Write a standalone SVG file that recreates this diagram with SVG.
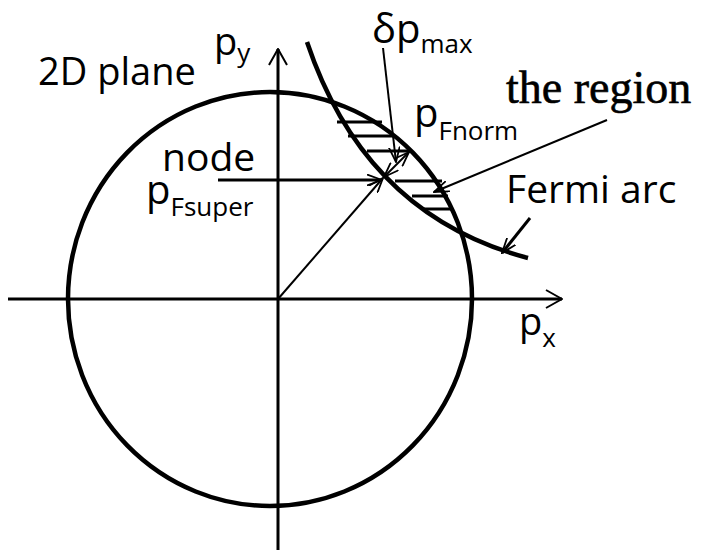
<svg xmlns="http://www.w3.org/2000/svg" width="702" height="550" viewBox="0 0 702 550">
  <style>
    .ln { stroke: #000; fill: none; stroke-linecap: butt; }
    .sans { font-family: "Open Sans", "Liberation Sans", sans-serif; fill: #000; }
    .serif { font-family: "Liberation Serif", "Times New Roman", serif; fill: #000; stroke: #000; stroke-width: 0.6px; }
    .sub { font-size: 26px; }
  </style>
  <defs>
    <marker id="ah" viewBox="0 0 16 12" refX="15" refY="6" markerWidth="16" markerHeight="12" markerUnits="userSpaceOnUse" orient="auto-start-reverse">
      <path d="M0,0.5 L15,6 L0,11.5" fill="none" stroke="#000" stroke-width="1.8"/>
    </marker>
    <marker id="axh" viewBox="0 0 18 20" refX="17" refY="10" markerWidth="18" markerHeight="20" markerUnits="userSpaceOnUse" orient="auto">
      <path d="M1,1 L17,10 L1,19" fill="none" stroke="#000" stroke-width="2"/>
    </marker>
  </defs>
  <rect width="702" height="550" fill="#fff"/>

  <g id="axes">
    <line class="ln" x1="8" y1="299" x2="562" y2="299" stroke-width="3" marker-end="url(#axh)"/>
    <line class="ln" x1="278" y1="550" x2="278" y2="49" stroke-width="3" marker-end="url(#axh)"/>
  </g>

  <g id="fermi-circle">
    <ellipse class="ln" cx="270" cy="299" rx="202" ry="207" stroke-width="4.5"/>
  </g>

  <g id="fermi-arc">
    <path class="ln" d="M307,42 Q365,215 528,258" stroke-width="4.5"/>
  </g>

  <g id="region-hatch">
    <line class="ln" x1="337" y1="122" x2="382" y2="122" stroke-width="3"/>
    <line class="ln" x1="348" y1="136" x2="393" y2="136" stroke-width="3"/>
    <line class="ln" x1="367" y1="151" x2="410" y2="151" stroke-width="3"/>
    <line class="ln" x1="395" y1="181" x2="442" y2="181" stroke-width="3"/>
    <line class="ln" x1="412" y1="196" x2="448" y2="196" stroke-width="3"/>
    <line class="ln" x1="423" y1="209" x2="453" y2="209" stroke-width="3"/>
  </g>

  <g id="connectors">
    <line class="ln" x1="218" y1="180" x2="382" y2="180" stroke-width="3" marker-end="url(#ah)"/>
    <line class="ln" x1="278" y1="299" x2="383" y2="178" stroke-width="2" marker-end="url(#ah)"/>
    <line class="ln" x1="384" y1="177" x2="409" y2="152" stroke-width="2" marker-start="url(#ah)" marker-end="url(#ah)"/>
    <line class="ln" x1="383" y1="48" x2="396" y2="162" stroke-width="2" marker-end="url(#ah)"/>
    <line class="ln" x1="607" y1="120" x2="434" y2="192" stroke-width="2" marker-end="url(#ah)"/>
    <line class="ln" x1="530" y1="218" x2="502" y2="253" stroke-width="3" marker-end="url(#ah)"/>
  </g>

  <g id="label-2d-plane">
    <text class="sans" x="38" y="85" font-size="38">2D plane</text>
  </g>
  <g id="label-py">
    <text class="sans" x="214" y="55" font-size="38">p<tspan class="sub" dy="7">y</tspan></text>
  </g>
  <g id="label-px">
    <text class="sans" x="519" y="335" font-size="38">p<tspan class="sub" dy="12">x</tspan></text>
  </g>
  <g id="label-dpmax">
    <text class="sans" x="372" y="43" font-size="40">δp<tspan class="sub" dy="10">max</tspan></text>
  </g>
  <g id="label-region">
    <text class="serif" x="506" y="103" font-size="46">the region</text>
  </g>
  <g id="label-pfnorm">
    <text class="sans" x="414" y="127" font-size="40">p<tspan class="sub" dy="13">Fnorm</tspan></text>
  </g>
  <g id="label-node">
    <text class="sans" x="162" y="171" font-size="39">node</text>
  </g>
  <g id="label-pfsuper">
    <text class="sans" x="146" y="204" font-size="40">p<tspan class="sub" dy="12">Fsuper</tspan></text>
  </g>
  <g id="label-fermi-arc">
    <text class="sans" x="506" y="203" font-size="39">Fermi arc</text>
  </g>
</svg>
